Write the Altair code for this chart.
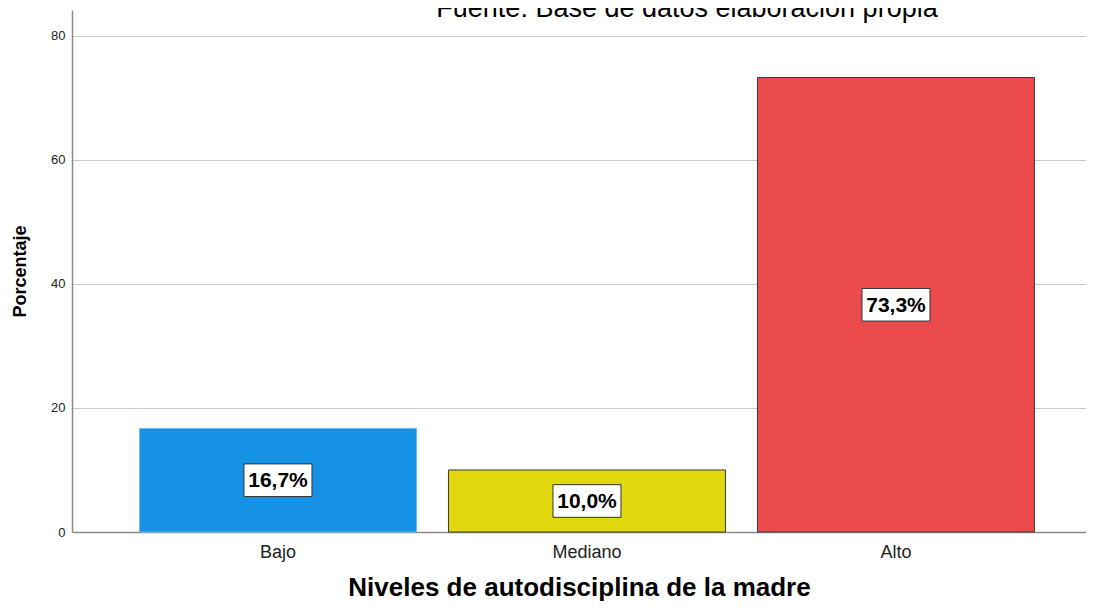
import altair as alt
import pandas as pd

categories = ["Bajo", "Mediano", "Alto"]
values = [16.7, 10.0, 73.3]
labels = ["16,7%", "10,0%", "73,3%"]
fill_colors = ["#1591E6", "#E2D80E", "#EB4B4C"]
stroke_colors = ["#72B9EE", "#3A3A2A", "#3A3A3A"]
y_ticks = [0, 20, 40, 60, 80]
source_note = "Fuente: Base de datos elaboración propia"

df = pd.DataFrame({"Nivel": categories, "Porcentaje": values, "Etiqueta": labels})
df["Mitad"] = df["Porcentaje"] / 2

FONT = "Liberation Sans"

x_enc = alt.X(
    "Nivel:N",
    sort=categories,
    scale=alt.Scale(paddingInner=0.1036, paddingOuter=0.1926, align=0.567),
    axis=alt.Axis(
        title="Niveles de autodisciplina de la madre",
        labelAngle=0,
        labelFontSize=18,
        labelColor="#222222",
        labelFont=FONT,
        labelPadding=11,
        ticks=False,
        domainColor="#8a8a8a",
        domainWidth=1.5,
        titleFont=FONT,
        titleFontSize=26,
        titleFontWeight="bold",
        titleColor="#000000",
        titlePadding=13,
    ),
)

bars = alt.Chart(df).mark_bar(strokeWidth=1).encode(
    x=x_enc,
    y=alt.Y(
        "Porcentaje:Q",
        scale=alt.Scale(domain=[0, 84.19], nice=False),
        axis=alt.Axis(
            title="Porcentaje",
            values=y_ticks,
            ticks=False,
            grid=True,
            gridColor="#c8c8c8",
            gridWidth=1,
            domainColor="#8a8a8a",
            domainWidth=1.5,
            labelFontSize=13,
            labelColor="#222222",
            labelFont=FONT,
            labelPadding=7,
            titleFont=FONT,
            titleFontSize=18,
            titleFontWeight="bold",
            titleColor="#000000",
            titlePadding=21,
        ),
    ),
    fill=alt.Fill("Nivel:N", scale=alt.Scale(domain=categories, range=fill_colors), legend=None),
    stroke=alt.Stroke("Nivel:N", scale=alt.Scale(domain=categories, range=stroke_colors), legend=None),
)

boxes = alt.Chart(df).mark_point(
    shape="M-1,-0.48L1,-0.48L1,0.48L-1,0.48Z",
    size=4624,
    filled=True,
    fill="white",
    stroke="#333333",
    strokeWidth=1,
    opacity=1,
).encode(
    x=alt.X("Nivel:N", sort=categories),
    y=alt.Y("Mitad:Q"),
)

texts = alt.Chart(df).mark_text(
    font=FONT, fontSize=21, fontWeight="bold", color="#000000", baseline="middle", align="center", dy=1
).encode(
    x=alt.X("Nivel:N", sort=categories),
    y=alt.Y("Mitad:Q"),
    text="Etiqueta:N",
)

note = alt.Chart(pd.DataFrame({"t": [source_note]})).mark_text(
    font=FONT, fontSize=27, color="#000000", align="center", baseline="alphabetic"
).encode(
    x=alt.value(615),
    y=alt.value(7),
    text="t:N",
)

chart = alt.layer(bars, boxes, texts, note).properties(
    width=1014,
    height=522,
    autosize=alt.AutoSizeParams(type="none"),
    padding={"left": 64, "top": 2, "right": 0, "bottom": 72},
    background="white",
).configure_view(stroke=None)

chart.save("out.html", embed_options={"renderer": "svg", "actions": False})
